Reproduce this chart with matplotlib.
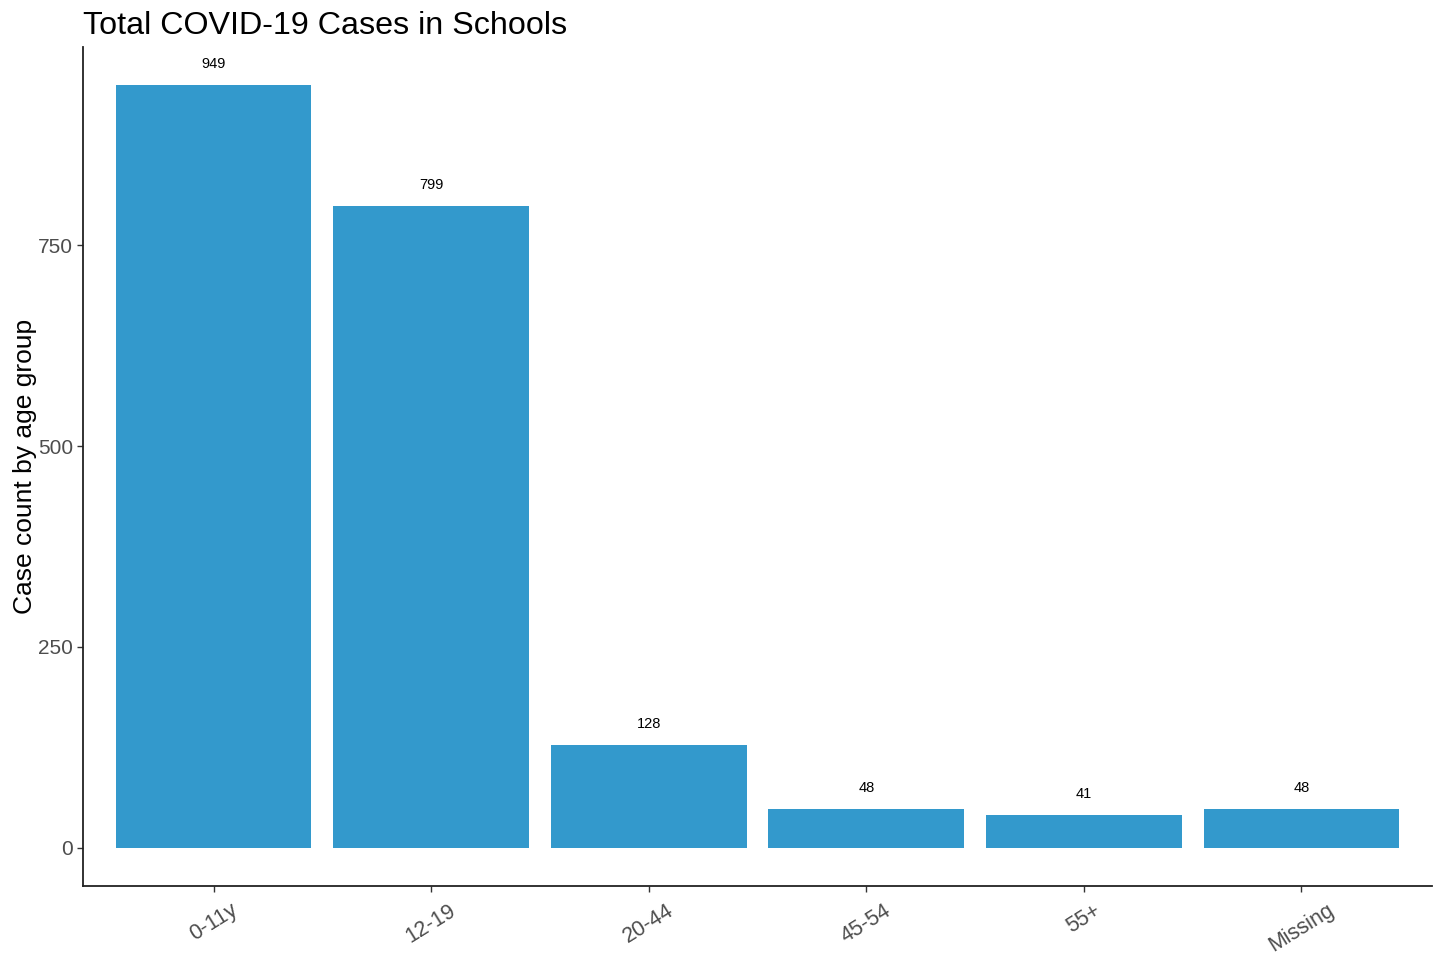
import matplotlib
matplotlib.use("Agg")
import matplotlib.pyplot as plt

categories = ["0-11y", "12-19", "20-44", "45-54", "55+", "Missing"]
counts = [949, 799, 128, 48, 41, 48]
yticks = [0, 250, 500, 750]

plt.rcParams['font.family'] = ['Liberation Sans', 'DejaVu Sans']

fig = plt.figure(figsize=(14.44, 9.55), dpi=100)
W, H = 1444, 955
ax = fig.add_axes([83 / W, (H - 886) / H, (1432 - 83) / W, (886 - 47) / H])

x = list(range(1, len(categories) + 1))
ax.bar(x, counts, width=0.9, color="#3399CC")
for xi, v in zip(x, counts):
    ax.annotate(str(v), (xi, v), xytext=(0, 15), textcoords="offset points",
                ha="center", va="center", fontsize=10.5, color="black")

ymax = max(counts)
ax.set_ylim(-0.05 * ymax, 1.05 * ymax)
ax.set_xlim(0.4, len(categories) + 0.6)
ax.set_xticks(x)
ax.set_xticklabels(categories, rotation=32, ha="center", fontsize=15.5, color="#4D4D4D")
ax.set_yticks(yticks)
ax.set_yticklabels([str(t) for t in yticks], fontsize=15, color="#4D4D4D")
ax.tick_params(axis="x", length=4, width=1, color="#333333", pad=6)
ax.tick_params(axis="y", length=4, width=1, color="#333333", pad=3)

for s in ["top", "right"]:
    ax.spines[s].set_visible(False)
for s in ["left", "bottom"]:
    ax.spines[s].set_linewidth(1.3)
    ax.spines[s].set_color("#222222")

ax.set_ylabel("Case count by age group", fontsize=19, color="black", labelpad=1)
ax.set_title("Total COVID-19 Cases in Schools", fontsize=23.2, loc="left", x=0.0, pad=9)

fig.savefig("out.png", dpi=100)
